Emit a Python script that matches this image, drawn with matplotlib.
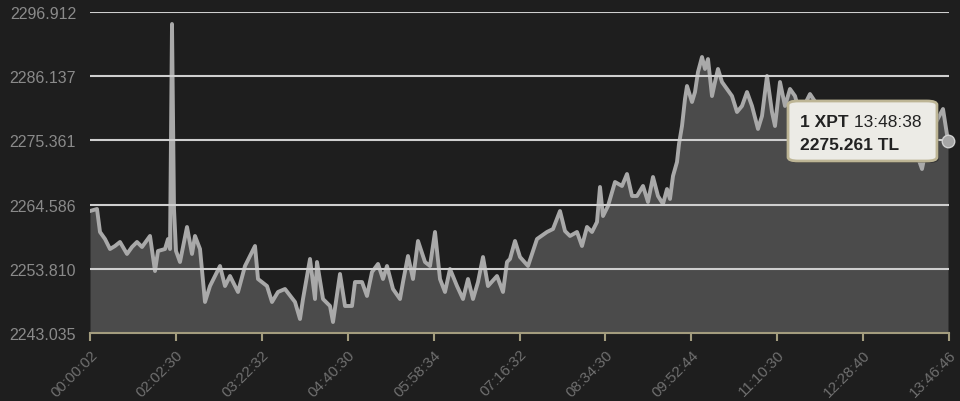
import matplotlib.pyplot as plt
from matplotlib.patches import FancyBboxPatch
import numpy as np

# sample index along the session (equal spacing per quote) and price in TL
idx = [0, 7, 10, 15, 20, 25, 30, 37, 42, 47, 52, 60, 65, 68, 75, 78, 80, 82, 84, 86,
       90, 97, 102, 105, 110, 115, 120, 130, 135, 140, 148, 155, 165, 168, 177, 182, 188, 195,
       205, 210, 213, 220, 225, 227, 233, 240, 243, 250, 255, 262, 265, 272, 277, 282, 288,
       293, 297, 303, 310, 313, 318, 323, 328, 335, 340, 345, 350, 355, 360, 367, 373, 378,
       383, 388, 393, 398, 407, 413, 417, 420, 425, 430, 438, 447, 457, 463, 470, 475, 480,
       487, 492, 497, 502, 507, 510, 513, 518, 525, 532, 537, 542, 547, 553, 558, 563, 568,
       573, 577, 580, 583, 587, 589, 592, 595, 597, 602, 605, 608, 612, 615, 618, 622, 625,
       628, 632, 637, 642, 647, 652, 657, 662, 668, 672, 677, 682, 685, 690, 695, 700, 705,
       710, 720, 730, 740, 750, 760, 770, 780, 790, 800, 810, 820, 825, 832, 838, 845, 853, 858]
price = [2263.51, 2263.85, 2259.99, 2258.81, 2257.13, 2257.64, 2258.31, 2256.30, 2257.47, 2258.31,
         2257.47, 2259.32, 2253.44, 2256.80, 2257.13, 2258.81, 2257.13, 2294.90, 2263.85, 2256.80,
         2254.95, 2260.83, 2256.30, 2259.32, 2257.13, 2248.24, 2250.92, 2254.28, 2250.92, 2252.60,
         2249.92, 2254.28, 2257.64, 2252.10, 2250.92, 2248.24, 2249.92, 2250.42,
         2248.24, 2245.38, 2248.74, 2255.46, 2248.74, 2254.95, 2248.74, 2247.57, 2244.88, 2252.94,
         2247.57, 2247.57, 2251.59, 2251.59, 2249.25, 2253.27, 2254.62,
         2252.10, 2254.28, 2250.42, 2248.74, 2251.59, 2255.96, 2252.10, 2258.48, 2254.95, 2254.28,
         2259.99, 2252.10, 2249.92, 2253.78, 2250.92, 2248.74, 2252.10,
         2248.74, 2251.59, 2255.79, 2250.92, 2252.60, 2249.92, 2254.95, 2255.46, 2258.48, 2255.79,
         2254.28, 2258.81, 2259.99, 2260.49, 2263.51, 2260.15, 2259.32,
         2259.99, 2257.64, 2260.83, 2259.99, 2261.67, 2267.54, 2262.67, 2264.35, 2268.38, 2267.71,
         2269.72, 2266.03, 2266.03, 2267.71, 2265.02, 2269.22, 2266.03,
         2264.69, 2267.20, 2265.53, 2269.39, 2271.74, 2274.76, 2277.78, 2282.31, 2284.49, 2281.81,
         2283.48, 2286.84, 2289.36, 2287.35, 2289.02, 2282.81, 2285.16,
         2287.35, 2285.16, 2283.99, 2282.81, 2280.13, 2281.14, 2283.48, 2281.14, 2277.28, 2279.46,
         2286.17, 2280.13, 2277.78, 2285.16, 2281.14, 2283.99, 2282.81,
         2279.79, 2283.15, 2280.63, 2278.95, 2281.47, 2278.11, 2279.79, 2277.28, 2278.95, 2276.44,
         2278.11, 2275.60, 2273.92, 2270.56, 2275.60, 2278.11, 2280.63, 2275.261]

y_ticks = [2243.035, 2253.810, 2264.586, 2275.361, 2286.137, 2296.912]
x_labels = ['00:00:02', '02:02:30', '03:22:32', '04:40:30', '05:58:34', '07:16:32',
            '08:34:30', '09:52:44', '11:10:30', '12:28:40', '13:46:46']
n_samples = 859
tip_unit = '1 XPT'
tip_time = '13:48:38'
tip_value = '2275.261 TL'

bg = '#1e1e1e'
plt.rcParams['font.family'] = ['Liberation Sans', 'DejaVu Sans']

fig = plt.figure(figsize=(9.6, 4.02), dpi=100, facecolor=bg)
ax = fig.add_axes([90 / 960, 1 - 334 / 402, 859 / 960, 321 / 402])
ax.set_facecolor(bg)

ymin, ymax = y_ticks[0], y_ticks[-1]
ax.fill_between(idx, price, ymin, color='#4b4b4b', lw=0, zorder=1)
ax.plot(idx, price, color='#a9a9a9', lw=2.8, solid_joinstyle='round', zorder=2)
for v in y_ticks[1:]:
    ax.axhline(v, color='#cfcfcf', lw=1.5, zorder=3)

ax.set_xlim(0, n_samples)
ax.set_ylim(ymin, ymax)

ax.set_yticks(y_ticks)
ax.set_yticklabels(['%.3f' % v for v in y_ticks])
ax.tick_params(axis='y', length=0, pad=10, labelsize=11.5, labelcolor='#8a8a8a')

xt = np.linspace(0, n_samples, len(x_labels))
ax.set_xticks(xt)
ax.set_xticklabels(x_labels, rotation=45, ha='right', rotation_mode='anchor')
ax.tick_params(axis='x', length=6, width=1.5, color='#a39c7e', pad=4,
               labelsize=11, labelcolor='#6f6f6f')

for s in ['top', 'left', 'right']:
    ax.spines[s].set_visible(False)
ax.spines['bottom'].set_color('#a39c7e')
ax.spines['bottom'].set_linewidth(1.5)
ax.spines['bottom'].set_zorder(4)

# hovered point marker
ax.plot([idx[-1]], [price[-1]], 'o', ms=9, color='#a6a6a6', mec='#d0d0d0', mew=1,
        zorder=6, clip_on=False)

# tooltip with soft shadow
shadow = FancyBboxPatch((0.8146, 0.5298), 0.1734, 0.187, transform=ax.transAxes,
                        boxstyle='round,pad=0,rounding_size=0.012',
                        fc='#000000', ec='none', alpha=0.35, zorder=7, clip_on=False)
ax.add_patch(shadow)
box = FancyBboxPatch((0.8126, 0.5358), 0.1734, 0.187, transform=ax.transAxes,
                     boxstyle='round,pad=0,rounding_size=0.012',
                     fc='#ecebe6', ec='#bdb595', lw=2, zorder=7, clip_on=False)
ax.add_patch(box)
t1 = ax.text(0.8266, 0.646, tip_unit, transform=ax.transAxes, fontsize=12.5,
             fontweight='bold', color='#222222', zorder=8, va='baseline')
ax.annotate(' ' + tip_time, xy=(1, 0), xycoords=t1, va='bottom', fontsize=12.5,
            color='#222222', zorder=8)
ax.text(0.8266, 0.574, tip_value, transform=ax.transAxes, fontsize=12.5,
        fontweight='bold', color='#222222', zorder=8, va='baseline')

fig.savefig('out.png', dpi=100, facecolor=bg)
